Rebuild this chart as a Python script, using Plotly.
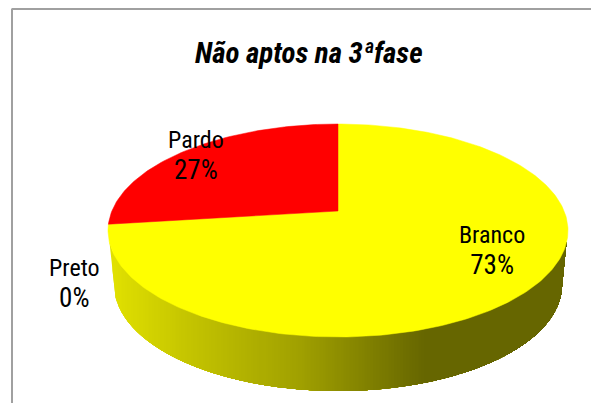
import numpy as np
import plotly.graph_objects as go

# Data
categories = ["Branco", "Preto", "Pardo"]
values = [73, 0, 27]
title_text = "Não aptos na 3ªfase"
colors = ["#FFFF00", "#000000", "#FF0000"]

W, H = 591, 403
CX, CY, A, B = 338.0, 230.5, 230.0, 106.5   # top ellipse
BCX, BCY, BA, BB = 338.0, 285.0, 224.0, 106.0  # bottom ellipse
K = -0.183  # perspective shift of the pie centre
FONT = "Roboto Condensed, DejaVu Sans Condensed, sans-serif"


def project(frac):
    """frac of the full turn, clockwise from 12 o'clock -> pixel coordinates."""
    t = 2 * np.pi * np.asarray(frac, dtype=float)
    X, Y = np.sin(t), -np.cos(t)
    d = 1 + K * Y
    return CX + A * X * np.sqrt(1 - K * K) / d, CY + B * (Y + K) / d


def side_colour(x):
    stops_x = [108, 200, 300, 425, 570]
    stops_v = [226, 192, 160, 102, 102]
    v = int(round(np.interp(x, stops_x, stops_v)))
    return f"rgb({v},{v},0)"


fig = go.Figure()

# Side wall: silhouette repainted from left to right, each pass starting further right,
# which yields a seamless horizontal gradient
ph = np.linspace(0, np.pi, 400)
edge = A - 1.5
bot_x = np.r_[CX - edge, BCX - BA * np.cos(ph), CX + edge]
bot_y = np.r_[CY + 12, BCY + BB * np.sin(ph), CY + 12]
grid = np.arange(CX - edge, CX + edge + 0.5, 1.0)
y_bot = np.interp(grid, bot_x, bot_y)
y_top = CY + B * np.sqrt(np.clip(1 - ((grid - CX) / A) ** 2, 0, 1)) - 1.0
y_bot = np.maximum(y_bot, y_top)
for i in range(0, len(grid) - 1, 3):
    xs, b, t = grid[i:], y_bot[i:], y_top[i:]
    c = side_colour(grid[i] + 1.5)
    fig.add_trace(go.Scatter(
        x=np.r_[xs, xs[::-1]], y=np.r_[b, t[::-1]], mode="lines",
        fill="toself", fillcolor=c, line=dict(color=c, width=0),
        hoverinfo="skip", showlegend=False))

# Top face wedges, computed from the values
total = sum(values)
start = 0.0
for name, val, col in zip(categories, values, colors):
    frac = val / total
    if frac > 0:
        n = max(int(frac * 360), 2)
        px, py = project(np.linspace(start, start + frac, n))
        cx0, cy0 = CX, CY + B * K
        fig.add_trace(go.Scatter(
            x=np.r_[cx0, px, cx0], y=np.r_[cy0, py, cy0], mode="lines",
            fill="toself", fillcolor=col, line=dict(color=col, width=0.5),
            name=name, hoverinfo="skip", showlegend=False))
    start += frac

# Labels
label_pos = {"Branco": (491.5, 251), "Preto": (74.5, 284), "Pardo": (196, 156)}
annotations = []
for name, val in zip(categories, values):
    lx, ly = label_pos[name]
    annotations.append(dict(
        x=lx, y=ly, xref="x", yref="y", showarrow=False, align="center",
        text=f"{name}<br><span style='font-size:27px'>{val}%</span>",
        font=dict(family=FONT, size=24, color="black")))
annotations.append(dict(
    x=308.5, y=53, xref="x", yref="y", showarrow=False,
    text=f"<b><i>{title_text}</i></b>",
    font=dict(family=FONT, size=29, color="black")))

shapes = [
    dict(type="line", x0=11.5, x1=591, y0=9, y1=9, line=dict(color="#A0A0A0", width=2)),
    dict(type="line", x0=12, x1=12, y0=9, y1=403, line=dict(color="#A0A0A0", width=2)),
]

fig.update_layout(
    width=W, height=H, margin=dict(l=0, r=0, t=0, b=0),
    paper_bgcolor="white", plot_bgcolor="white", showlegend=False,
    xaxis=dict(range=[0, W], visible=False, fixedrange=True),
    yaxis=dict(range=[H, 0], visible=False, fixedrange=True),
    annotations=annotations, shapes=shapes,
)
fig.write_html("out.html", config={"displayModeBar": False},
               post_script="document.body.style.margin='0';document.documentElement.style.overflow='hidden';")
